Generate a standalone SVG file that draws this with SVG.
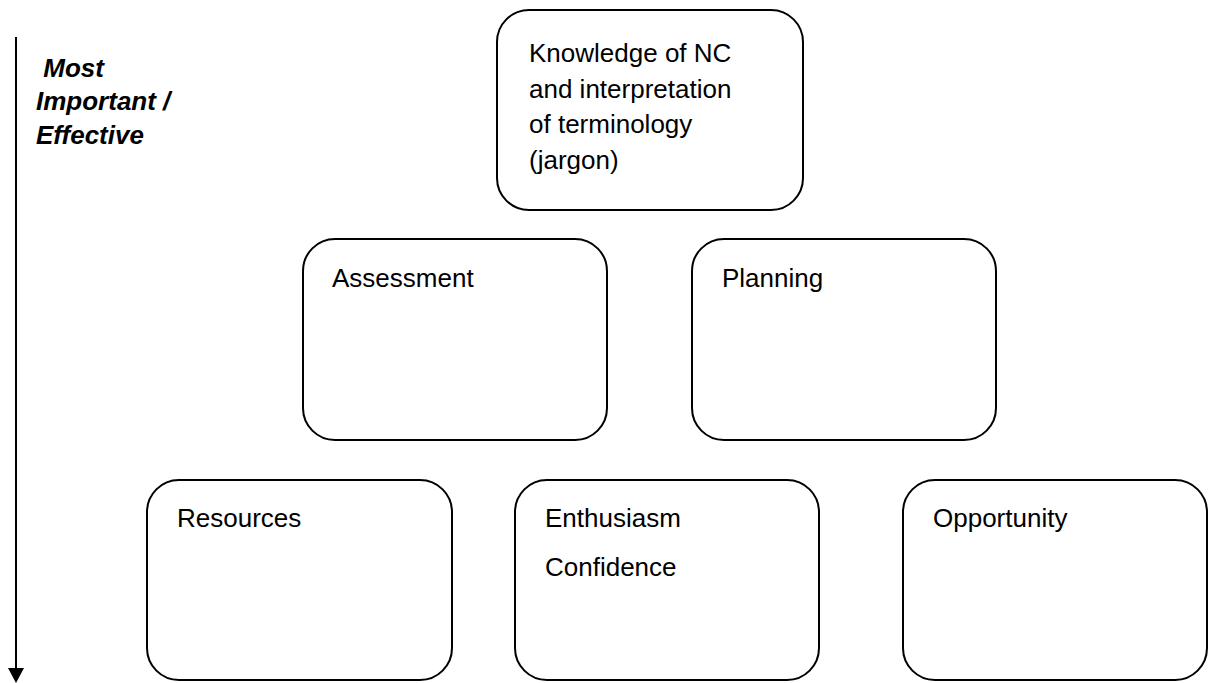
<svg xmlns="http://www.w3.org/2000/svg" width="1212" height="683" viewBox="0 0 1212 683">
<style>
.box{fill:#fff;stroke:#000;stroke-width:2}
.t{font-family:"Liberation Sans",Arial,sans-serif;font-size:26px;fill:#000}
.bi{font-family:"Liberation Sans",Arial,sans-serif;font-size:26px;font-weight:bold;font-style:italic;fill:#000}
</style>
<rect width="1212" height="683" fill="#fff"/>
<g id="connectors">
<line x1="16" y1="37" x2="16" y2="670" stroke="#000" stroke-width="2"/>
<polygon points="8,668 24,668 16,683" fill="#000"/>
</g>
<g id="axis-label">
<text class="bi" x="36" y="77" xml:space="preserve"> Most</text>
<text class="bi" x="36" y="110">Important /</text>
<text class="bi" x="36" y="144">Effective</text>
</g>
<g id="knowledge">
<rect class="box" x="497" y="10" width="306" height="200" rx="32" ry="32"/>
<text class="t" x="529" y="62">Knowledge of NC</text>
<text class="t" x="529" y="98">and interpretation</text>
<text class="t" x="529" y="133">of terminology</text>
<text class="t" x="529" y="169">(jargon)</text>
</g>
<g id="assessment">
<rect class="box" x="303" y="239" width="304" height="201" rx="32" ry="32"/>
<text class="t" x="332" y="287">Assessment</text>
</g>
<g id="planning">
<rect class="box" x="692" y="239" width="304" height="201" rx="32" ry="32"/>
<text class="t" x="722" y="287">Planning</text>
</g>
<g id="resources">
<rect class="box" x="147" y="480" width="305" height="200" rx="32" ry="32"/>
<text class="t" x="177" y="527">Resources</text>
</g>
<g id="enthusiasm">
<rect class="box" x="515" y="480" width="304" height="200" rx="32" ry="32"/>
<text class="t" x="545" y="527">Enthusiasm</text>
<text class="t" x="545" y="576">Confidence</text>
</g>
<g id="opportunity">
<rect class="box" x="903" y="480" width="304" height="200" rx="32" ry="32"/>
<text class="t" x="933" y="527">Opportunity</text>
</g>
</svg>
